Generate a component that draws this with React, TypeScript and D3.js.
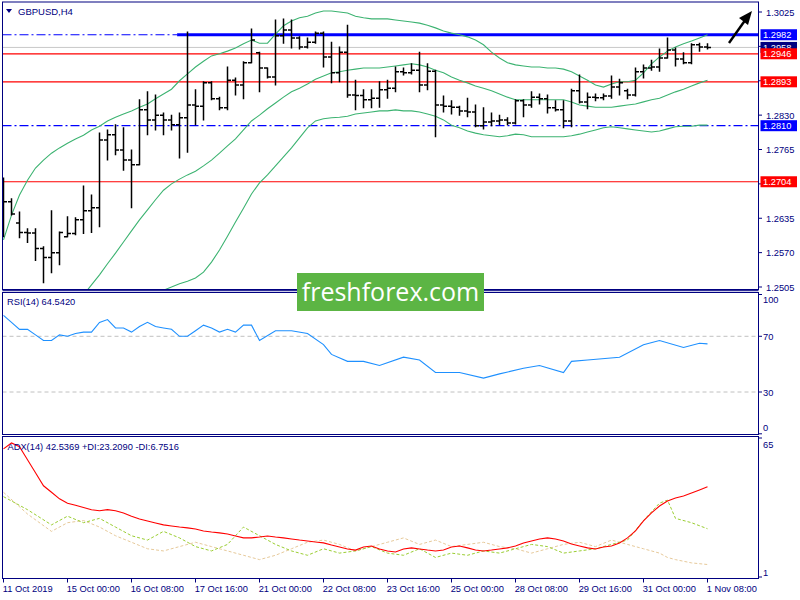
import React from 'react';
import * as d3 from 'd3';

// ---------- DATA ----------
const opens = [1.2689,1.2666,1.2626,1.2608,1.2607,1.2578,1.2561,1.2570,1.2600,1.2606,1.2632,1.2649,1.2655,1.2783,1.2793,1.2764,1.2745,1.2736,1.2840,1.2821,1.2830,1.2821,1.2812,1.2825,1.2849,1.2847,1.2891,1.2861,1.2844,1.2896,1.2887,1.2929,1.2948,1.2919,1.2902,1.2980,1.2991,1.2976,1.2959,1.2968,1.2985,1.2940,1.2910,1.2949,1.2868,1.2867,1.2859,1.2862,1.2878,1.2881,1.2912,1.2910,1.2915,1.2887,1.2913,1.2849,1.2847,1.2845,1.2838,1.2836,1.2810,1.2817,1.2819,1.2821,1.2815,1.2857,1.2849,1.2864,1.2861,1.2844,1.2840,1.2819,1.2876,1.2855,1.2864,1.2863,1.2866,1.2883,1.2876,1.2868,1.2912,1.2919,1.2921,1.2938,1.2953,1.2936,1.2929,1.2963,1.2959];
const highs = [1.2711,1.2672,1.2647,1.2615,1.2615,1.2581,1.2649,1.2609,1.2638,1.2636,1.2696,1.2679,1.2796,1.2802,1.2812,1.2806,1.2764,1.2859,1.2874,1.2868,1.2834,1.2830,1.2834,1.2987,1.2878,1.2893,1.2893,1.2864,1.2921,1.2900,1.2931,1.2993,1.2949,1.2919,1.3010,1.3012,1.3010,1.2978,1.2976,1.2987,1.2987,1.2968,1.2959,1.3000,1.2896,1.2878,1.2878,1.2893,1.2896,1.2921,1.2919,1.2927,1.2949,1.2927,1.2915,1.2866,1.2857,1.2847,1.2862,1.2849,1.2844,1.2834,1.2830,1.2825,1.2859,1.2859,1.2874,1.2870,1.2868,1.2857,1.2857,1.2879,1.2906,1.2872,1.2870,1.2870,1.2904,1.2898,1.2879,1.2919,1.2925,1.2934,1.2955,1.2976,1.2957,1.2948,1.2965,1.2966,1.2965];
const lows = [1.2600,1.2641,1.2598,1.2589,1.2555,1.2513,1.2532,1.2547,1.2600,1.2604,1.2606,1.2608,1.2619,1.2745,1.2755,1.2726,1.2655,1.2736,1.2793,1.2802,1.2793,1.2802,1.2749,1.2760,1.2812,1.2821,1.2859,1.2840,1.2840,1.2868,1.2861,1.2929,1.2874,1.2900,1.2887,1.2966,1.2957,1.2955,1.2957,1.2966,1.2921,1.2891,1.2893,1.2864,1.2840,1.2844,1.2844,1.2845,1.2862,1.2874,1.2906,1.2908,1.2874,1.2878,1.2789,1.2836,1.2832,1.2830,1.2827,1.2808,1.2804,1.2810,1.2812,1.2812,1.2813,1.2827,1.2845,1.2851,1.2834,1.2838,1.2806,1.2808,1.2853,1.2842,1.2857,1.2859,1.2862,1.2868,1.2861,1.2866,1.2900,1.2915,1.2913,1.2938,1.2923,1.2927,1.2927,1.2951,1.2955];
const closes = [1.2666,1.2643,1.2608,1.2607,1.2578,1.2561,1.2570,1.2608,1.2606,1.2632,1.2649,1.2655,1.2783,1.2793,1.2764,1.2745,1.2736,1.2840,1.2821,1.2830,1.2821,1.2812,1.2825,1.2849,1.2847,1.2891,1.2861,1.2844,1.2896,1.2887,1.2929,1.2972,1.2919,1.2902,1.2980,1.2991,1.2976,1.2959,1.2968,1.2985,1.2940,1.2910,1.2949,1.2868,1.2867,1.2859,1.2862,1.2878,1.2881,1.2912,1.2910,1.2915,1.2887,1.2913,1.2849,1.2847,1.2845,1.2838,1.2836,1.2810,1.2817,1.2819,1.2821,1.2815,1.2857,1.2849,1.2864,1.2861,1.2844,1.2840,1.2819,1.2876,1.2855,1.2864,1.2863,1.2866,1.2883,1.2891,1.2868,1.2912,1.2919,1.2921,1.2938,1.2953,1.2936,1.2929,1.2963,1.2959,1.2958];

const upperBand = [1.2594,1.2641,1.2679,1.2707,1.2730,1.2745,1.2758,1.2768,1.2777,1.2785,1.2792,1.2802,1.2809,1.2819,1.2826,1.2832,1.2838,1.2845,1.2851,1.2861,1.2870,1.2879,1.2895,1.2908,1.2921,1.2932,1.2942,1.2946,1.2951,1.2957,1.2965,1.2972,1.2966,1.2966,1.2983,1.2999,1.3008,1.3014,1.3017,1.3023,1.3027,1.3027,1.3025,1.3023,1.3017,1.3014,1.3012,1.3012,1.3012,1.3010,1.3008,1.3006,1.3004,1.3000,1.2995,1.2989,1.2985,1.2982,1.2978,1.2972,1.2963,1.2949,1.2938,1.2929,1.2925,1.2923,1.2921,1.2921,1.2919,1.2919,1.2917,1.2912,1.2904,1.2896,1.2887,1.2883,1.2889,1.2893,1.2893,1.2896,1.2910,1.2927,1.2940,1.2951,1.2959,1.2965,1.2970,1.2976,1.2982];
const middleStart = 10;
const middleBand = [1.2490,1.2509,1.2528,1.2549,1.2569,1.2590,1.2611,1.2632,1.2651,1.2670,1.2688,1.2700,1.2709,1.2717,1.2724,1.2734,1.2745,1.2758,1.2772,1.2785,1.2802,1.2819,1.2830,1.2842,1.2853,1.2864,1.2874,1.2881,1.2889,1.2898,1.2904,1.2910,1.2912,1.2915,1.2917,1.2919,1.2919,1.2919,1.2921,1.2923,1.2925,1.2927,1.2925,1.2921,1.2915,1.2910,1.2902,1.2896,1.2891,1.2885,1.2881,1.2876,1.2870,1.2864,1.2859,1.2859,1.2859,1.2859,1.2859,1.2859,1.2859,1.2855,1.2849,1.2847,1.2845,1.2845,1.2845,1.2847,1.2849,1.2851,1.2855,1.2859,1.2862,1.2868,1.2874,1.2879,1.2885,1.2891,1.2896];
const lowerStart = 20;
const lowerBand = [1.2499,1.2505,1.2511,1.2516,1.2522,1.2533,1.2552,1.2575,1.2601,1.2628,1.2654,1.2681,1.2702,1.2717,1.2734,1.2751,1.2768,1.2787,1.2806,1.2819,1.2823,1.2825,1.2826,1.2828,1.2832,1.2834,1.2836,1.2838,1.2838,1.2840,1.2838,1.2838,1.2836,1.2832,1.2828,1.2821,1.2811,1.2806,1.2800,1.2796,1.2793,1.2791,1.2789,1.2791,1.2794,1.2793,1.2789,1.2789,1.2789,1.2789,1.2789,1.2791,1.2794,1.2798,1.2802,1.2806,1.2808,1.2806,1.2804,1.2802,1.2800,1.2798,1.2800,1.2804,1.2808,1.2809,1.2809,1.2811,1.2811];

const rsiIdx = [0,1,2,3,4,5,6,7,8,9,10,11,12,13,14,15,16,17,18,19,20,21,22,23,24,25,26,27,28,29,30,31,32,34,36,38,40,41,43,45,47,50,52,54,57,60,62,65,67,70,71,73,77,80,82,85,87,88];
const rsiVal = [85,80,75,75,71,67,67,71,70,72,73,73,80,82,76,76,73,77,80,77,76,75,70,70,74,78,76,73,75,73,78,78,67,74,74,72,64,57,52,52,49,55,53,44,44,40,43,47,49,44,52,53,55,64,67,62,65,64.542];

const adxVal = [60,62.7,61,55,49,43,40,37,35,34,33,32,31.5,32,31.5,30.5,29,27.7,26.8,25.9,25,24.5,24,23.6,23.1,22.2,21.7,21.3,20.8,19.9,19,19,19.4,19.9,19.4,19,18.5,18,17.6,17.1,16.7,15.7,14.8,13.9,13.4,14.8,15.3,13.9,13,12.5,13.9,14.4,13.9,13.4,13,13.4,14.8,15.3,14.4,13.4,13,13.4,13.9,14.4,15.3,16.7,17.6,18.5,19,18.5,17.6,16.2,15.3,14.4,13.9,14.8,15.3,16.7,19,22.2,26.8,30.5,33.7,36,37.4,38.3,39.7,41.1,42.5369];
const diIdx = [0,3,6,8,10,12,14,16,18,20,22,24,26,28,30,32,34,36,38,40,42,44,46,48,50,52,54,56,58,60,62,64,66,68,70,72,74,76,78,80,82,83,84,86,88];
const plusDI = [38,32,25,29,26,28,24,20,18,22,19,15,13,16,24,20,16,13,11,14,12,13,15,12,11,14,10,12,11,13,12,14,16,15,12,13,14,16,18,27,35,36.4,28,26,23.209];
const minusDI = [40,30,22,26,27,24,20,17,14,13,15,17,15,13,11,9,11,14,17,18,16,13,15,17,19,16,18,15,16,17,15,14,12,14,16,17,15,18,16,14,12,10,9,7.5,6.7516];

const priceTicks = [1.3025,1.2960,1.2895,1.2830,1.2765,1.2700,1.2635,1.2570,1.2505];
const rsiTicks = [100,70,30,0];
const rsiLevels = [70,30];
const adxTicks = [65,1];
const xLabels = ['11 Oct 2019','15 Oct 00:00','16 Oct 08:00','17 Oct 16:00','21 Oct 00:00','22 Oct 08:00','23 Oct 16:00','25 Oct 00:00','28 Oct 08:00','29 Oct 16:00','31 Oct 00:00','1 Nov 08:00'];
const xLabelBars = [0,8,16,24,32,40,48,56,64,72,80,88];

const resistance = 1.2982;
const bidPrice = 1.2958;
const redLevels = [1.2946,1.2893,1.2704];
const support = 1.2810;
const resistanceStartBar = 21.7;

// ---------- LAYOUT ----------
const FONT = '"Liberation Sans", Arial, sans-serif';
const AX = '#000080';
const L = 2.5, R = 758.5;
const mainTop = 2, mainBot = 289.5;
const rsiTop = 291.5, rsiBot = 434.5;
const adxTop = 436.5, adxBot = 578.5;

export default function App() {
  const x = d3.scaleLinear().domain([0, 88]).range([3.5, 707.5]);
  const y = d3.scaleLinear().domain([1.2505, 1.3025]).range([287, 12]);
  const yr = d3.scaleLinear().domain([0, 100]).range([433.8, 294.5]);
  const ya = d3.scaleLinear().domain([1, 65]).range([577, 438]);

  const lineP = d3.line<[number, number]>().x(d => x(d[0])).y(d => y(d[1]));
  const toPts = (arr: number[], start: number) => arr.map((v, k) => [start + k, v] as [number, number]);

  const rsiLine = d3.line<number>().x((_, k) => x(rsiIdx[k])).y(v => yr(v));
  const adxLine = d3.line<number>().x((_, k) => x(k)).y(v => ya(v));
  const diLine = d3.line<number>().x((_, k) => x(diIdx[k])).y(v => ya(v));

  const fmt = d3.format('.4f');
  const dashDot = '9,3,2,3';
  const boxPrices = [resistance, bidPrice, support, ...redLevels];
  const hidden = (p: number) => boxPrices.some(b => Math.abs(y(b) - y(p)) < 9);

  const labelBox = (p: number, fill: string, key: string) => (
    <g key={key}>
      <rect x={760.5} y={y(p) - 5.5} width={36.5} height={11} fill={fill} />
      <text x={763} y={y(p) + 3.5} fill="#fff" fontSize={9.3} fontFamily={FONT}>{fmt(p)}</text>
    </g>
  );

  return (
    <svg width={800} height={600} style={{ position: 'absolute', left: 0, top: 0, background: '#fff' }}>
      <defs>
        <clipPath id="cm"><rect x={L} y={mainTop} width={R - L} height={mainBot - mainTop} /></clipPath>
        <clipPath id="cr"><rect x={L} y={rsiTop} width={R - L} height={rsiBot - rsiTop} /></clipPath>
        <clipPath id="ca"><rect x={L} y={adxTop} width={R - L} height={adxBot - adxTop} /></clipPath>
        <filter id="blur" x="-5%" y="-200%" width="110%" height="500%"><feGaussianBlur stdDeviation="1.6" /></filter>
      </defs>
      <rect x={0} y={0} width={800} height={600} fill="#fff" />

      {/* MAIN PANEL */}
      <g clipPath="url(#cm)">
        <line x1={L} x2={R} y1={y(bidPrice)} y2={y(bidPrice)} stroke="#c8c8c8" strokeWidth={1} />
        {redLevels.map((p, k) => (
          <line key={k} x1={L} x2={R} y1={y(p)} y2={y(p)} stroke="#ff0000" strokeWidth={1.2} />
        ))}
        <line x1={L} x2={R} y1={y(support)} y2={y(support)} stroke="#0000ff" strokeWidth={1.2} strokeDasharray={dashDot} />
        <line x1={L} x2={x(resistanceStartBar)} y1={y(resistance)} y2={y(resistance)} stroke="#0000ff" strokeWidth={1.2} strokeDasharray={dashDot} />
        <line x1={x(resistanceStartBar) + 2} x2={R} y1={y(resistance) + 3.5} y2={y(resistance) + 3.5} stroke="#000" strokeOpacity={0.45} strokeWidth={3} filter="url(#blur)" />
        <line x1={x(resistanceStartBar)} x2={R} y1={y(resistance)} y2={y(resistance)} stroke="#0000ff" strokeWidth={3.2} />

        <path d={lineP(toPts(upperBand, 0))!} fill="none" stroke="#3cb371" strokeWidth={1.1} />
        <path d={lineP(toPts(middleBand, middleStart))!} fill="none" stroke="#3cb371" strokeWidth={1.1} />
        <path d={lineP(toPts(lowerBand, lowerStart))!} fill="none" stroke="#3cb371" strokeWidth={1.1} />

        {closes.map((c, i) => {
          const cx = x(i);
          return (
            <g key={i} stroke="#000" strokeWidth={1.5}>
              <line x1={cx} x2={cx} y1={y(highs[i]) - 0.5} y2={y(lows[i]) + 0.5} />
              <line x1={cx - 3.5} x2={cx} y1={y(opens[i])} y2={y(opens[i])} />
              <line x1={cx} x2={cx + 3.5} y1={y(c)} y2={y(c)} />
            </g>
          );
        })}
      </g>
      <path d="M6,9 L12,9 L9,13 Z" fill={AX} />
      <text x={18} y={15} fontSize={9.5} fontFamily={FONT} fill={AX}>GBPUSD,H4</text>

      <line x1={729} x2={746} y1={43} y2={19} stroke="#000" strokeWidth={2.4} />
      <path d="M752,11 L739,18 L748,25 Z" fill="#000" />

      {priceTicks.map((p, k) => (
        <g key={k}>
          <line x1={R} x2={R + 3.5} y1={y(p)} y2={y(p)} stroke={AX} />
          {!hidden(p) && <text x={766} y={y(p) + 3.5} fontSize={9.3} fontFamily={FONT} fill={AX}>{fmt(p)}</text>}
        </g>
      ))}
      {labelBox(resistance, '#0000ff', 'res')}
      {labelBox(bidPrice, '#000080', 'bid')}
      {redLevels.map((p, k) => labelBox(p, '#ff0000', 'r' + k))}
      {labelBox(support, '#0000ff', 'sup')}

      {/* RSI PANEL */}
      <g clipPath="url(#cr)">
        {rsiLevels.map((v, k) => (
          <line key={k} x1={L} x2={R} y1={yr(v)} y2={yr(v)} stroke="#c0c0c0" strokeDasharray="4,3" />
        ))}
        <path d={rsiLine(rsiVal)!} fill="none" stroke="#1e90ff" strokeWidth={1.1} />
      </g>
      <text x={7} y={305} fontSize={9.3} fontFamily={FONT} fill={AX}>RSI(14) 64.5420</text>
      {rsiTicks.map((v, k) => (
        <g key={k}>
          <line x1={R} x2={R + 3.5} y1={yr(v)} y2={yr(v)} stroke={AX} />
          <text x={763} y={Math.min(Math.max(yr(v), 299.3), 427.7) + 3.5} fontSize={9.3} fontFamily={FONT} fill={AX}>{v}</text>
        </g>
      ))}

      {/* ADX PANEL */}
      <g clipPath="url(#ca)">
        <path d={diLine(minusDI)!} fill="none" stroke="#e6c99a" strokeWidth={1} strokeDasharray="3,2" />
        <path d={diLine(plusDI)!} fill="none" stroke="#9acd32" strokeWidth={1} strokeDasharray="3,2" />
        <path d={adxLine(adxVal)!} fill="none" stroke="#ff0000" strokeWidth={1.1} />
      </g>
      <text x={7.5} y={450} fontSize={9.3} fontFamily={FONT} fill={AX}>ADX(14) 42.5369 +DI:23.2090 -DI:6.7516</text>
      {adxTicks.map((v, k) => (
        <g key={k}>
          <line x1={R} x2={R + 3.5} y1={ya(v)} y2={ya(v)} stroke={AX} />
          <text x={763} y={Math.min(Math.max(ya(v), 444), 572.7) + 3.5} fontSize={9.3} fontFamily={FONT} fill={AX}>{v}</text>
        </g>
      ))}

      {/* frames */}
      <rect x={L} y={mainTop} width={R - L} height={mainBot - mainTop} fill="none" stroke={AX} />
      <line x1={L} x2={R} y1={mainBot + 1.2} y2={mainBot + 1.2} stroke={AX} />
      <rect x={L} y={rsiTop + 1} width={R - L} height={rsiBot - rsiTop - 1} fill="none" stroke={AX} />
      <rect x={L} y={adxTop} width={R - L} height={adxBot - adxTop} fill="none" stroke={AX} />

      {/* watermark */}
      <rect x={297} y={273} width={187} height={38} fill="#5cb544" />
      <text x={390.5} y={301} textAnchor="middle" fontSize={25} fontFamily='"Open Sans", "DejaVu Sans", sans-serif' fill="#fff">freshforex.com</text>

      {/* time axis */}
      {xLabels.map((t, k) => (
        <g key={k}>
          <line x1={x(xLabelBars[k])} x2={x(xLabelBars[k])} y1={adxBot} y2={adxBot + 4} stroke={AX} />
          <text x={x(xLabelBars[k]) - 0.8} y={592} fontSize={9.3} fontFamily={FONT} fill={AX}>{t}</text>
        </g>
      ))}
    </svg>
  );
}
